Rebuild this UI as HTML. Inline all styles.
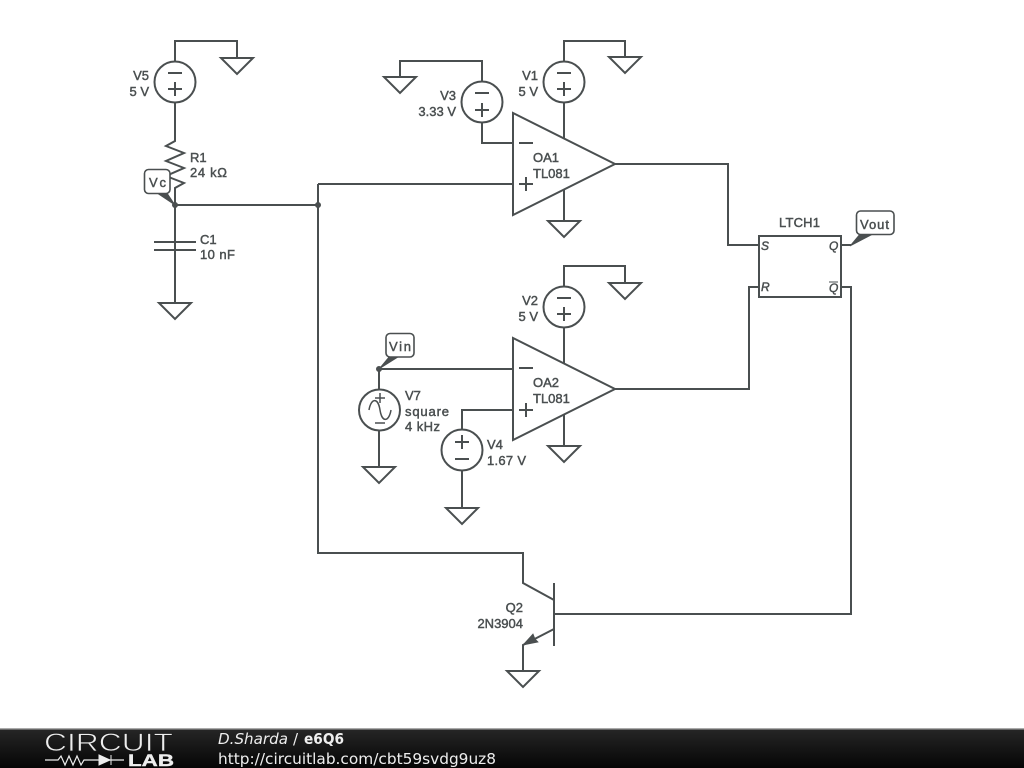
<!DOCTYPE html>
<html><head><meta charset="utf-8"><style>
html,body{margin:0;padding:0;background:#fff;width:1024px;height:768px;overflow:hidden}
svg{display:block;filter:blur(.35px)}
.w{fill:none;stroke:#4a4f50;stroke-width:2;stroke-linejoin:miter}
.t{font-family:"Liberation Sans",sans-serif;font-size:13px;fill:#4a4f50;stroke:#4a4f50;stroke-width:.45}
.e{text-anchor:end}
.f{font-family:"DejaVu Sans",sans-serif;font-size:15px;fill:#eee}
</style></head><body>
<svg width="1024" height="768" viewBox="0 0 1024 768">
<defs><linearGradient id="g" x1="0" y1="0" x2="0" y2="1"><stop offset="0" stop-color="#262626"/><stop offset="1" stop-color="#050505"/></linearGradient></defs>
<g class="w">
<!-- V5 -->
<path d="M175 61V41H237V58M221 58H253L237 74Z"/>
<circle cx="175" cy="82" r="20.5"/>
<path d="M168 73H182M168 89H182M175 82V96"/>
<path d="M175 103V141L166 146L184 153L166 161L184 168L166 176L184 183L175 188V303"/>
<path d="M154 242H196M154 250H196"/>
<path d="M159 303H191L175 319Z"/>
<path d="M175 205H318M318 184H513M318 184V553H523V583L554 600M554 583V646M554 614H851V287H841M554 629L523 645V671"/>
<path d="M507 671H539L523 687Z"/>
<!-- OA1 -->
<path d="M513 113V215L615 164Z"/>
<path d="M615 164H728V245H759M519 143H533M519 184H533M526 177V191"/>
<path d="M482 81V61H400V77M384 77H416L400 93Z"/>
<circle cx="482" cy="102" r="20.5"/>
<path d="M475 93H489M475 110H489M482 103V117M482 123V143H513"/>
<path d="M564 61V41H625V57M609 57H641L625 73Z"/>
<circle cx="564" cy="82" r="20.5"/>
<path d="M557 73H571M557 89H571M564 82V96M564 103V138M564 190V221M548 221H580L564 237Z"/>
<!-- LTCH -->
<rect x="759" y="236" width="82" height="61"/>
<path d="M759 287H749V389H615M841 245H851"/>
<!-- OA2 -->
<path d="M513 338V440L615 389Z"/>
<path d="M519 368H533M519 410H533M526 403V417"/>
<path d="M564 286V266H625V283M609 283H641L625 299Z"/>
<circle cx="564" cy="307" r="20.5"/>
<path d="M557 298H571M557 314H571M564 307V321M564 328V363M564 415V446M548 446H580L564 462Z"/>
<path d="M379 369H513M379 369V389M379 431V467M363 467H395L379 483Z"/>
<circle cx="379.5" cy="410" r="20.5"/>
<path d="M369 410C371 398 378 397 380 410C382 423 389 422 391 410" stroke-width="1.5"/>
<path d="M375 398H385M380 393V403M375 423H385" stroke-width="1.5"/>
<path d="M462 429V410H513"/>
<circle cx="462" cy="450" r="20.5"/>
<path d="M455 442H469M462 435V449M455 459H469M462 471V508M446 508H478L462 524Z"/>
</g>
<g fill="#4a4f50" stroke="#4a4f50" stroke-width=".8">
<circle cx="175" cy="205" r="2.6"/><circle cx="318" cy="205" r="2.6"/><circle cx="379" cy="369" r="2.6"/>
<path d="M175 205L157 193H167Z"/>
<path d="M379 369L389 357H398Z"/>
<path d="M850 246L860 234H873Z"/>
<path d="M523 645L533 634L535 639L538 642Z"/>
</g>
<g fill="#fff" stroke="#4a4f50" stroke-width="1.6">
<rect x="144.500" y="169.500" width="25.500" height="24" rx="4"/>
<rect x="386" y="333.500" width="28" height="23.500" rx="4"/>
<rect x="856.500" y="211" width="37.500" height="23.500" rx="4"/>
</g>
<g class="t">
<text x="149" y="80" class="e">V5</text><text x="149" y="96" class="e">5 V</text>
<text x="190" y="162">R1</text><text x="190" y="177" textLength="37">24 kΩ</text>
<text x="200" y="244">C1</text><text x="200" y="259" textLength="35">10 nF</text>
<text x="149" y="187" textLength="17">Vc</text>
<text x="456" y="100" class="e">V3</text><text x="456" y="116" class="e">3.33 V</text>
<text x="538" y="80" class="e">V1</text><text x="538" y="96" class="e">5 V</text>
<text x="533" y="162">OA1</text><text x="533" y="178">TL081</text>
<text x="779" y="227" textLength="41">LTCH1</text>
<text x="860" y="229" textLength="29">Vout</text>
<text x="538" y="305" class="e">V2</text><text x="538" y="321" class="e">5 V</text>
<text x="533" y="387">OA2</text><text x="533" y="403">TL081</text>
<text x="389" y="351" textLength="22">Vin</text>
<text x="405" y="400">V7</text><text x="405" y="416" textLength="44">square</text><text x="405" y="431" textLength="35">4 kHz</text>
<text x="487" y="449">V4</text><text x="487" y="465" textLength="39">1.67 V</text>
<text x="523" y="612" class="e">Q2</text><text x="523" y="628" class="e">2N3904</text>
<g style="font-size:12px;font-style:italic">
<text x="761" y="250">S</text><text x="761" y="291">R</text>
<text x="829" y="250">Q</text><text x="829" y="292">Q</text>
</g>
</g>
<path d="M829 282H838" stroke="#4a4f50" stroke-width="1"/>
<!-- footer -->
<rect x="0" y="729" width="1024" height="39" fill="url(#g)"/>
<rect x="0" y="728" width="1024" height="1.5" fill="#aaa"/>
<text x="44" y="751" textLength="129" lengthAdjust="spacingAndGlyphs" font-family="Liberation Sans,sans-serif" font-size="25" fill="#eee" stroke="#1c1c1c" stroke-width=".7">CIRCUIT</text>
<text x="128" y="766" textLength="46" lengthAdjust="spacingAndGlyphs" font-family="Liberation Sans,sans-serif" font-size="17" font-weight="bold" fill="#eee" stroke="#eee" stroke-width=".4">LAB</text>
<path d="M45 760H58L61 756L65 765L69 756L73 765L77 756L81 765L84 760H124" fill="none" stroke="#eee" stroke-width="1.2"/>
<path d="M99 755L110 760L99 765Z M111 755V765" fill="#eee" stroke="#eee"/>
<text class="f" x="218" y="744" font-style="italic" textLength="70" lengthAdjust="spacingAndGlyphs">D.Sharda</text>
<text class="f" x="293" y="744">/</text>
<text class="f" x="304" y="744" font-weight="bold" textLength="40" lengthAdjust="spacingAndGlyphs">e6Q6</text>
<text class="f" x="218" y="764" textLength="278" lengthAdjust="spacingAndGlyphs">http://circuitlab.com/cbt59svdg9uz8</text>
</svg>
</body></html>
